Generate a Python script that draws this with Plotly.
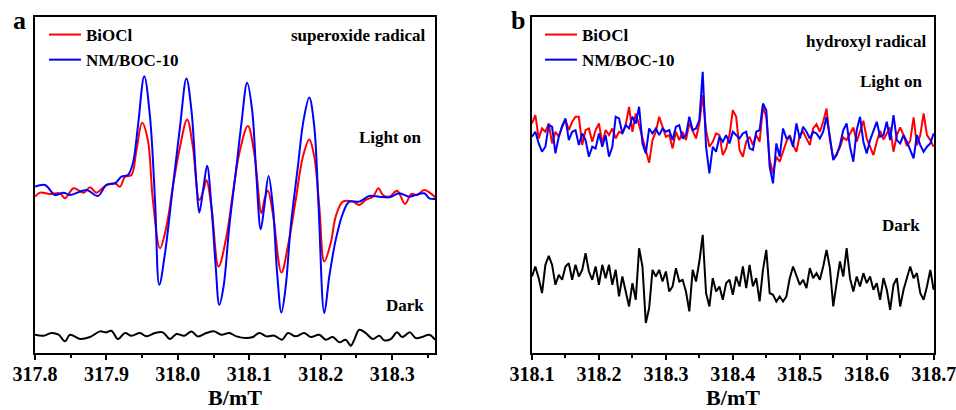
import plotly.graph_objects as go

# ---------------- Panel a : superoxide radical ----------------
field_a_biocl = [317.800, 317.807, 317.821, 317.835, 317.842, 317.854, 317.868, 317.877, 317.886, 317.900,
                 317.912, 317.919, 317.926, 317.935, 317.942, 317.950, 317.958, 317.965, 317.975, 317.984,
                 317.993, 318.003, 318.013, 318.021, 318.030, 318.036, 318.040, 318.047, 318.057, 318.068,
                 318.077, 318.086, 318.098, 318.107, 318.117, 318.121, 318.126, 318.133, 318.145, 318.154,
                 318.165, 318.175, 318.184, 318.191, 318.198, 318.205, 318.214, 318.221, 318.231, 318.245,
                 318.254, 318.263, 318.273, 318.281, 318.287, 318.296, 318.307, 318.318, 318.327, 318.335,
                 318.345, 318.354, 318.360]
int_a_biocl = [470, 482, 478, 480, 465, 495, 482, 498, 482, 505,
               510, 500, 530, 535, 610, 692, 640, 460, 315, 380,
               500, 620, 702, 620, 460, 490, 520, 440, 260, 350,
               480, 600, 682, 600, 420, 460, 488, 420, 242, 320,
               460, 590, 642, 590, 440, 275, 330, 410, 455, 455,
               445, 460, 470, 495, 475, 470, 488, 448, 478, 475,
               490, 480, 468]

field_a_nm = [317.800, 317.814, 317.828, 317.840, 317.849, 317.872, 317.888, 317.900, 317.912, 317.921,
              317.930, 317.937, 317.944, 317.953, 317.961, 317.968, 317.974, 317.982, 317.993, 318.003,
              318.012, 318.019, 318.026, 318.030, 318.036, 318.041, 318.047, 318.053, 318.058, 318.064,
              318.072, 318.082, 318.089, 318.097, 318.104, 318.110, 318.116, 318.121, 318.127, 318.133,
              318.139, 318.145, 318.151, 318.158, 318.168, 318.176, 318.184, 318.191, 318.197, 318.205,
              318.212, 318.221, 318.231, 318.240, 318.254, 318.268, 318.282, 318.296, 318.310, 318.324,
              318.333, 318.345, 318.352, 318.360]
int_a_nm = [500, 505, 475, 482, 475, 490, 472, 505, 510, 530,
            535, 570, 680, 832, 710, 460, 205, 300, 500, 680,
            825, 730, 510, 422, 500, 563, 440, 260, 145, 200,
            380, 560, 690, 812, 730, 530, 372, 440, 532, 440,
            240, 122, 200, 380, 560, 700, 768, 680, 440, 120,
            230, 340, 420, 455, 455, 472, 470, 468, 480, 470,
            475, 480, 465, 463]

field_a_dark = [317.800, 317.812, 317.823, 317.833, 317.842, 317.849, 317.863, 317.877, 317.891, 317.900,
                317.907, 317.916, 317.926, 317.935, 317.947, 317.956, 317.968, 317.979, 317.989, 317.998,
                318.009, 318.019, 318.028, 318.040, 318.051, 318.061, 318.072, 318.082, 318.096, 318.105,
                318.114, 318.124, 318.135, 318.146, 318.154, 318.165, 318.177, 318.186, 318.198, 318.207,
                318.217, 318.226, 318.235, 318.242, 318.247, 318.254, 318.263, 318.273, 318.282, 318.289,
                318.298, 318.307, 318.314, 318.325, 318.333, 318.342, 318.352, 318.360]
int_a_dark = [55, 52, 60, 55, 35, 55, 42, 48, 65, 62,
              67, 42, 60, 52, 60, 50, 60, 62, 42, 57,
              52, 65, 50, 60, 65, 55, 60, 50, 45, 48,
              60, 50, 52, 40, 60, 50, 60, 48, 55, 40,
              48, 32, 40, 22, 40, 70, 60, 42, 52, 38,
              42, 62, 48, 62, 45, 48, 55, 40]

ticks_a = [317.8, 317.9, 318.0, 318.1, 318.2, 318.3]

# ---------------- Panel b : hydroxyl radical ----------------
field_b = [318.100, 318.105, 318.110, 318.115, 318.120, 318.125, 318.130, 318.135, 318.140, 318.145,
           318.150, 318.155, 318.160, 318.165, 318.170, 318.175, 318.180, 318.185, 318.190, 318.195,
           318.200, 318.205, 318.210, 318.215, 318.220, 318.225, 318.230, 318.235, 318.240, 318.245,
           318.250, 318.255, 318.260, 318.265, 318.270, 318.275, 318.280, 318.285, 318.290, 318.295,
           318.300, 318.305, 318.310, 318.315, 318.320, 318.325, 318.330, 318.335, 318.340, 318.345,
           318.350, 318.355, 318.360, 318.365, 318.370, 318.375, 318.380, 318.385, 318.390, 318.395,
           318.400, 318.405, 318.410, 318.415, 318.420, 318.425, 318.430, 318.435, 318.440, 318.445,
           318.450, 318.455, 318.460, 318.465, 318.470, 318.475, 318.480, 318.485, 318.490, 318.495,
           318.500, 318.505, 318.510, 318.515, 318.520, 318.525, 318.530, 318.535, 318.540, 318.545,
           318.550, 318.555, 318.560, 318.565, 318.570, 318.575, 318.580, 318.585, 318.590, 318.595,
           318.600, 318.605, 318.610, 318.615, 318.620, 318.625, 318.630, 318.635, 318.640, 318.645,
           318.650, 318.655, 318.660, 318.665, 318.670, 318.675, 318.680, 318.685, 318.690, 318.695,
           318.700]

int_b_biocl = [690, 715, 645, 675, 665, 690, 630, 665, 650, 680,
               700, 670, 695, 710, 710, 625, 670, 675, 635, 670,
               690, 630, 670, 655, 675, 645, 665, 660, 685, 740,
               665, 720, 685, 650, 610, 572, 640, 665, 710, 680,
               650, 655, 615, 665, 640, 665, 640, 690, 665, 645,
               690, 775, 670, 620, 635, 660, 655, 595, 615, 655,
               730, 710, 610, 590, 635, 650, 625, 655, 635, 740,
               710, 580, 540, 590, 575, 605, 635, 655, 625, 605,
               655, 665, 645, 625, 675, 688, 665, 695, 735, 640,
               585, 598, 618, 648, 640, 658, 678, 635, 668, 698,
               645, 622, 595, 635, 668, 642, 658, 678, 605, 655,
               678, 655, 622, 638, 708, 625, 655, 720, 655, 640,
               620]

int_b_nm = [650, 665, 630, 605, 620, 685, 680, 600, 650, 682,
            705, 640, 665, 670, 625, 660, 640, 590, 620, 615,
            660, 620, 655, 590, 620, 710, 705, 660, 685, 675,
            710, 690, 740, 630, 600, 675, 660, 675, 655, 675,
            665, 670, 640, 680, 685, 645, 655, 710, 670, 675,
            700, 845, 620, 540, 620, 605, 650, 635, 655, 630,
            665, 655, 645, 660, 665, 615, 610, 665, 670, 750,
            730, 560, 510, 630, 590, 675, 645, 650, 620, 690,
            645, 680, 665, 645, 665, 660, 645, 665, 710, 650,
            580, 595, 625, 670, 690, 620, 575, 670, 710, 635,
            600, 640, 668, 695, 650, 655, 695, 640, 715, 640,
            630, 655, 635, 610, 585, 655, 625, 605, 620, 630,
            660]

int_b_dark = [230, 260, 225, 180, 265, 292, 265, 205, 235, 220,
              260, 270, 220, 265, 230, 250, 300, 245, 220, 260,
              205, 265, 225, 265, 205, 250, 170, 230, 185, 140,
              210, 160, 315, 260, 90, 135, 250, 230, 250, 215,
              245, 185, 200, 255, 215, 220, 185, 125, 250, 215,
              275, 355, 180, 140, 225, 185, 200, 160, 210, 220,
              175, 230, 200, 260, 195, 265, 200, 225, 155, 250,
              310, 180, 175, 155, 170, 155, 170, 225, 260, 230,
              205, 220, 195, 255, 225, 240, 220, 260, 310, 255,
              140, 210, 275, 230, 315, 225, 185, 230, 200, 240,
              210, 230, 190, 210, 160, 225, 190, 130, 205, 225,
              140, 190, 225, 260, 225, 240, 180, 160, 200, 250,
              190]

ticks_b = [318.1, 318.2, 318.3, 318.4, 318.5, 318.6, 318.7]

series_names = ["BiOCl", "NM/BOC-10"]
RED = "#ff0000"
BLUE = "#0000ff"
BLACK = "#000000"
FONT = "Liberation Serif, Times New Roman, serif"

fig = go.Figure()

# Panel a
fig.add_trace(go.Scatter(x=field_a_biocl, y=int_a_biocl, mode="lines", name=series_names[0],
                         line=dict(color=RED, width=2, shape="spline", smoothing=1.0),
                         xaxis="x", yaxis="y", legend="legend"))
fig.add_trace(go.Scatter(x=field_a_nm, y=int_a_nm, mode="lines", name=series_names[1],
                         line=dict(color=BLUE, width=2, shape="spline", smoothing=1.0),
                         xaxis="x", yaxis="y", legend="legend"))
fig.add_trace(go.Scatter(x=field_a_dark, y=int_a_dark, mode="lines", name="Dark",
                         line=dict(color=BLACK, width=2, shape="spline", smoothing=1.0),
                         xaxis="x", yaxis="y", showlegend=False))

# Panel b
fig.add_trace(go.Scatter(x=field_b, y=int_b_biocl, mode="lines", name=series_names[0],
                         line=dict(color=RED, width=2),
                         xaxis="x2", yaxis="y2", legend="legend2"))
fig.add_trace(go.Scatter(x=field_b, y=int_b_nm, mode="lines", name=series_names[1],
                         line=dict(color=BLUE, width=2),
                         xaxis="x2", yaxis="y2", legend="legend2"))
fig.add_trace(go.Scatter(x=field_b, y=int_b_dark, mode="lines", name="Dark",
                         line=dict(color=BLACK, width=2),
                         xaxis="x2", yaxis="y2", showlegend=False))

W, H = 956, 410
TOP, BOT = 17, 57

xcommon = dict(showline=True, linewidth=2, linecolor="black", mirror=True, automargin=False,
               ticks="outside", ticklen=5, tickwidth=2, tickcolor="black",
               showgrid=False, zeroline=False, tickmode="array", tickformat=".1f",
               ticklabeloverflow="allow", ticklabelstandoff=-3,
               tickfont=dict(family=FONT, size=20, color="black", weight="bold"),
               minor=dict(ticks="outside", ticklen=3, tickwidth=1.5, tickcolor="black", dtick=0.05,
                          showgrid=False),
               title=dict(text="B/mT", font=dict(family=FONT, size=22, color="black", weight="bold"),
                          standoff=9))
ycommon = dict(showline=True, linewidth=2, linecolor="black", mirror=True, automargin=False,
               ticks="", showticklabels=False, showgrid=False, zeroline=False,
               range=[0, 1010], domain=[0, 1])

legcommon = dict(bgcolor="rgba(0,0,0,0)", borderwidth=0, tracegroupgap=0,
                 font=dict(family=FONT, size=17, color="black", weight="bold"),
                 xanchor="left", yanchor="top", itemwidth=32)

def py(p):
    """pixel row (from top of picture) -> paper y"""
    return (H - BOT - p) / (H - TOP - BOT)

fig.update_layout(
    width=W, height=H,
    margin=dict(l=0, r=0, t=TOP, b=BOT, autoexpand=False),
    paper_bgcolor="white", plot_bgcolor="white",
    showlegend=True,
    xaxis=dict(xcommon, domain=[35 / W, 435 / W], range=[317.8, 318.36], tickvals=ticks_a,
               minor=dict(xcommon["minor"], tick0=317.8), anchor="y"),
    yaxis=dict(ycommon, anchor="x"),
    xaxis2=dict(xcommon, domain=[532 / W, 934 / W], range=[318.1, 318.7005], tickvals=ticks_b,
                minor=dict(xcommon["minor"], tick0=318.1), anchor="y2"),
    yaxis2=dict(ycommon, anchor="x2"),
    legend=dict(legcommon, x=44 / W, y=py(17)),
    legend2=dict(legcommon, x=540 / W, y=py(17)),
)

def label(text, xpx, ypx, size=17, anchor="right"):
    fig.add_annotation(text=text, x=xpx / W, y=py(ypx), xref="paper", yref="paper",
                       xanchor=anchor, yanchor="middle", showarrow=False,
                       font=dict(family=FONT, size=size, color="black", weight="bold"))

label("superoxide radical", 428, 35)
label("Light on", 423, 137)
label("Dark", 426, 305)
label("hydroxyl radical", 928, 42)
label("Light on", 924, 81)
label("Dark", 922, 225)
label("a", 19, 21, size=26, anchor="center")
label("b", 518, 21, size=26, anchor="center")

fig.write_html("out.html", config={"displayModeBar": False},
               post_script="document.body.style.margin='0';document.body.style.overflow='hidden';")
